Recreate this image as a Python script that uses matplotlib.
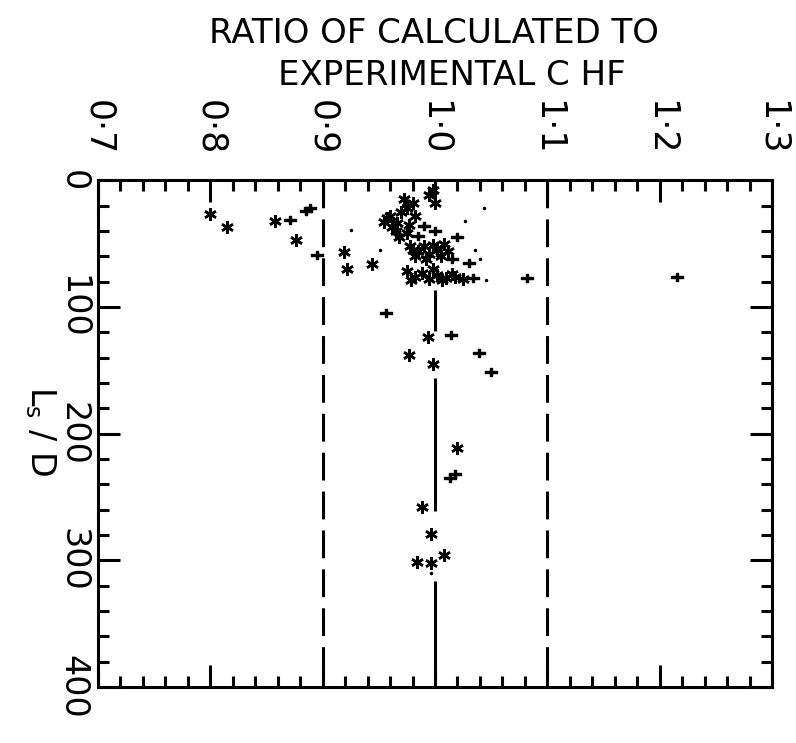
import numpy as np
import matplotlib
matplotlib.use("Agg")
import matplotlib.pyplot as plt
from matplotlib.ticker import MultipleLocator, FixedLocator

plt.rcParams['font.family'] = ['DejaVu Sans']
plt.rcParams['lines.scale_dashes'] = False

# ratio of calculated to experimental CHF, and Ls/D for each test point
star_ratio = [0.800, 0.815, 0.858, 0.876, 0.919, 0.944, 0.922,
              0.955, 0.960, 0.965, 0.975, 0.977, 0.972, 0.980, 0.982, 0.995,
              1.000, 0.998, 0.968, 0.962, 0.957, 0.970, 0.966, 0.975,
              0.978, 0.985, 0.990, 0.995, 1.002, 1.008, 0.982, 1.005, 0.992, 1.012,
              0.980, 0.998,
              0.975, 0.982, 0.988, 0.995, 1.002, 1.010, 1.018, 1.025, 0.998,
              0.979, 1.006, 1.015,
              0.994, 0.977, 0.998, 1.020, 0.988, 0.996, 1.008, 0.984, 0.996]
star_lsd = [27, 37, 32, 47, 57, 66, 70,
            33, 28, 40, 22, 35, 15, 18, 28, 12,
            18, 8, 45, 37, 30, 25, 34, 42,
            52, 56, 52, 58, 55, 50, 60, 60, 62, 56,
            55, 51,
            72, 76, 73, 78, 75, 77, 76, 78, 70,
            79, 79, 74,
            124, 138, 145, 211, 258, 279, 296, 301, 302]

div_ratio = [0.871, 0.885, 0.889, 0.895, 0.990, 1.000, 0.985, 1.034, 1.082,
             1.215, 0.956, 1.014, 1.039, 1.050, 1.013, 1.018, 1.020, 1.015, 1.030]
div_lsd = [31, 24, 22, 59, 36, 40, 44, 77, 77,
           76, 105, 122, 136, 151, 235, 232, 45, 62, 65]

dot_ratio = [1.044, 1.027, 0.925, 0.951, 1.036, 1.040, 1.045, 0.996]
dot_lsd = [22, 32, 39, 55, 55, 62, 79, 310]

x_ticks = [0.7, 0.8, 0.9, 1.0, 1.1, 1.2, 1.3]
x_labels = ['0·7', '0·8', '0·9', '1·0', '1·1', '1·2', '1·3']
y_ticks = [0, 100, 200, 300, 400]
y_labels = ['0', '100', '200', '300', '400']

# pieces of the unity line left visible between the data clusters
unity_segments = [(0, 10), (87, 119), (156, 261), (316, 400)]

fig = plt.figure(figsize=(7.96, 7.43), dpi=100)
ax = fig.add_axes([0.123, 0.0754, 0.847, 0.682])

ax.set_xlim(0.7, 1.3)
ax.set_ylim(400, 0)

lw = 2.2
for s in ax.spines.values():
    s.set_linewidth(lw)

# +/-10% bands
for xv in (0.9, 1.1):
    ax.plot([xv, xv], [0, 400], color='black', lw=lw,
            dashes=(20, 8), solid_capstyle='butt', dash_capstyle='butt')
for y0, y1 in unity_segments:
    ax.plot([1.0, 1.0], [y0, y1], color='black', lw=lw, solid_capstyle='butt')

ax.plot(star_ratio, star_lsd, ls='none', marker=(6, 2, 0), ms=9,
        mec='black', mew=1.8, color='black')
ax.plot(div_ratio, div_lsd, ls='none', marker=r'$\div$', ms=8,
        color='black')
ax.plot(dot_ratio, dot_lsd, ls='none', marker='.', ms=3, color='black')

ax.xaxis.set_major_locator(FixedLocator(x_ticks))
ax.xaxis.set_minor_locator(MultipleLocator(0.02))
ax.yaxis.set_major_locator(FixedLocator(y_ticks))
ax.yaxis.set_minor_locator(MultipleLocator(20))
ax.set_xticklabels(x_labels)
ax.set_yticklabels(y_labels)

ax.tick_params(axis='both', which='both', direction='in', width=lw,
               top=True, bottom=True, left=True, right=True)
ax.tick_params(axis='both', which='major', length=16)
ax.tick_params(axis='both', which='minor', length=8)
ax.tick_params(axis='x', labeltop=True, labelbottom=False,
               labelsize=25, labelrotation=270, pad=18)
ax.tick_params(axis='y', labelleft=True, labelright=False,
               labelsize=24, labelrotation=270, pad=6)
for t in ax.get_xticklabels():
    t.set_va('bottom')
for t in ax.get_yticklabels():
    t.set_va('center')

fig.text(40 / 796, 0.42, r'L$_\mathregular{s}$ / D', fontsize=24,
         rotation=270, ha='center', va='center')

fig.text(0.545, 0.955, 'RATIO OF CALCULATED TO', ha='center', va='center',
         fontsize=24.5)
fig.text(0.568, 0.898, 'EXPERIMENTAL C HF', ha='center', va='center',
         fontsize=24.5)

fig.savefig('out.png', dpi=100)
